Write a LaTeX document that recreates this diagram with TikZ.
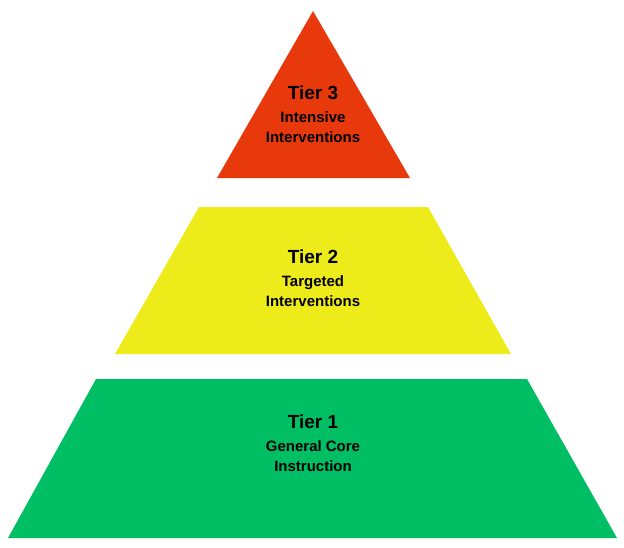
\documentclass[tikz,border=0pt]{standalone}
\usepackage{fontspec}
\setmainfont{Liberation Sans}
\definecolor{tred}{HTML}{E8390D}
\definecolor{tyel}{HTML}{EEEB1B}
\definecolor{tgrn}{HTML}{00BE63}
\begin{document}
\begin{tikzpicture}[x=1pt,y=-1pt,
  tier/.style={font=\bfseries\fontsize{19}{22}\selectfont},
  sub/.style={font=\bfseries\fontsize{15}{20}\selectfont,align=center}]
\useasboundingbox (0,0) rectangle (624,547);
\fill[tred] (313,11) -- (410,178) -- (217,178) -- cycle;
\fill[tyel] (199,207) -- (428,207) -- (511,354) -- (115,354) -- cycle;
\fill[tgrn] (96,379) -- (527,379) -- (617,538) -- (8,538) -- cycle;
\node[tier] (t3) at (313,93) {Tier 3};
\node[sub] (s3) at (313,127) {Intensive\\Interventions};
\node[tier] (t2) at (313,257) {Tier 2};
\node[sub] (s2) at (313,291) {Targeted\\Interventions};
\node[tier] (t1) at (313,422) {Tier 1};
\node[sub] (s1) at (313,456) {General Core\\Instruction};
\end{tikzpicture}
\end{document}
